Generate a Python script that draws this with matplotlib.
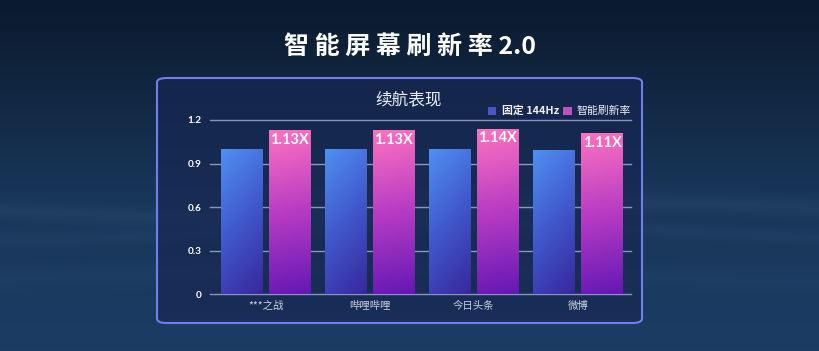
import numpy as np
import matplotlib
matplotlib.use('Agg')
import matplotlib.pyplot as plt
from matplotlib.patches import FancyBboxPatch, Rectangle
from matplotlib.colors import LinearSegmentedColormap

plt.rcParams['font.family'] = ['Noto Sans CJK SC', 'DejaVu Sans']

# data
apps = ['***之战', '哔哩哔哩', '今日头条', '微博']
fixed_144 = [1.0, 1.0, 1.0, 0.995]
smart_rate = [1.13, 1.13, 1.14, 1.11]
ratio_labels = ['1.13X', '1.13X', '1.14X', '1.11X']
series_names = ['固定 144Hz', '智能刷新率']
yticks = [0, 0.3, 0.6, 0.9, 1.2]

W, H = 820, 351
fig = plt.figure(figsize=(W / 100, H / 100), dpi=100)

# background: dark sky fading into a blue desert
bg = fig.add_axes([0, 0, 1, 1])
bg.set_axis_off()
bg.set_zorder(-5)
yy = np.linspace(0, 1, H)[:, None]
xx = np.linspace(0, 1, W)[None, :]
top = np.array([11, 26, 46]) / 255
mid = np.array([24, 54, 88]) / 255
low = np.array([28, 60, 100]) / 255
t1 = np.clip(yy / 0.55, 0, 1)
t2 = np.clip((yy - 0.55) / 0.45, 0, 1)
img = top * (1 - t1[..., None]) + mid * t1[..., None]
img = img * (1 - t2[..., None]) + low * t2[..., None]
img = np.broadcast_to(img, (H, W, 3)).copy()
# soft dune highlights
for yc, amp, ph, w in [(0.60, 0.05, 0.0, 0.025), (0.66, 0.035, 1.3, 0.02), (0.78, 0.025, 2.1, 0.03)]:
    band = np.exp(-((yy - yc - 0.02 * np.sin(6 * xx + ph)) / w) ** 2)
    img += amp * band[..., None] * np.array([0.55, 0.6, 0.7])
img = np.clip(img, 0, 1)
bg.imshow(img, extent=[0, 1, 0, 1], aspect='auto', origin='upper')
bg.set_xlim(0, 1)
bg.set_ylim(0, 1)

# panel
panel = FancyBboxPatch((157 / W, 1 - 323 / H), 485 / W, 245 / H,
                       boxstyle='round,pad=0,rounding_size=0.012',
                       transform=fig.transFigure, facecolor='#172652', alpha=0.65,
                       edgecolor='none', zorder=-3)
fig.add_artist(panel)
edge = FancyBboxPatch((157 / W, 1 - 323 / H), 485 / W, 245 / H,
                      boxstyle='round,pad=0,rounding_size=0.012',
                      transform=fig.transFigure, facecolor='none',
                      edgecolor='#6f7ff0', lw=1.5, zorder=-2)
fig.add_artist(edge)

fig.text(0.5, 1 - 47 / H, '智 能 屏 幕 刷 新 率 2.0', ha='center', va='center',
         color='white', fontsize=18, fontweight='bold')
fig.text(0.498, 1 - 100 / H, '续航表现', ha='center', va='center',
         color='#e8ecf5', fontsize=12)

# legend
fig.add_artist(Rectangle((488 / W, 1 - 115 / H), 8.5 / W, 8.5 / H, transform=fig.transFigure,
                         facecolor='#4a55c8', edgecolor='none'))
fig.text(502 / W, 1 - 111 / H, series_names[0], ha='left', va='center',
         color='#eef0f8', fontsize=7.8, fontweight='bold')
fig.add_artist(Rectangle((563 / W, 1 - 115 / H), 8.5 / W, 8.5 / H, transform=fig.transFigure,
                         facecolor='#c050c0', edgecolor='none'))
fig.text(577 / W, 1 - 111 / H, series_names[1], ha='left', va='center',
         color='#eef0f8', fontsize=7.8)

ax = fig.add_axes([210 / W, 1 - 294.3 / H, 421 / W, 174.3 / H])
ax.patch.set_alpha(0)
for s in ax.spines.values():
    s.set_visible(False)

x = np.arange(len(apps))
off = 0.231
bw = 0.394
ax.set_xlim(-0.534, 3.51)
ax.set_ylim(0, 1.2)

for v in yticks:
    ax.axhline(v, color='#8a96b8', lw=1.0, zorder=1, clip_on=False)

blue_cmap = LinearSegmentedColormap.from_list('b', ['#38289a', '#4058cc', '#5090f2'])
pink_cmap = LinearSegmentedColormap.from_list('p', ['#6418b4', '#b83cc4', '#ff72c0'])

b1 = ax.bar(x - off, fixed_144, bw, color='none', zorder=3)
b2 = ax.bar(x + off, smart_rate, bw, color='none', zorder=3)

gy = np.linspace(0, 1, 200)[:, None]
gx = np.linspace(0, 1, 50)[None, :]
for bars, cmap, diag in [(b1, blue_cmap, 0.25), (b2, pink_cmap, 0.05)]:
    for r in bars:
        x0, y0 = r.get_x(), r.get_y()
        w, h = r.get_width(), r.get_height()
        grad = np.clip(gy * (1 - diag) + (1 - gx) * diag, 0, 1)
        im = ax.imshow(grad, cmap=cmap, origin='lower', aspect='auto',
                       extent=[x0, x0 + w, y0, y0 + h], vmin=0, vmax=1, zorder=3)
        im.set_clip_path(r)

for xi, v, lab in zip(x, smart_rate, ratio_labels):
    ax.text(xi + off, v - 0.018, lab, ha='center', va='top', color='white',
            fontsize=10.5, fontweight='bold', family=['Lato', 'DejaVu Sans'], zorder=5)

ax.set_yticks(yticks)
ax.set_yticklabels(['0', '0.3', '0.6', '0.9', '1.2'])
ax.set_xticks(x)
ax.set_xticklabels(apps)
ax.tick_params(axis='y', length=0, pad=6, labelsize=7.2, labelcolor='white')
ax.tick_params(axis='x', length=0, pad=5, labelsize=7.5, labelcolor='#c8d0e0')
for t in ax.get_yticklabels():
    t.set_fontweight('bold')
    t.set_family(['Lato', 'DejaVu Sans'])
ax.set_xlim(-0.534, 3.51)

fig.savefig('out.png', dpi=100)
